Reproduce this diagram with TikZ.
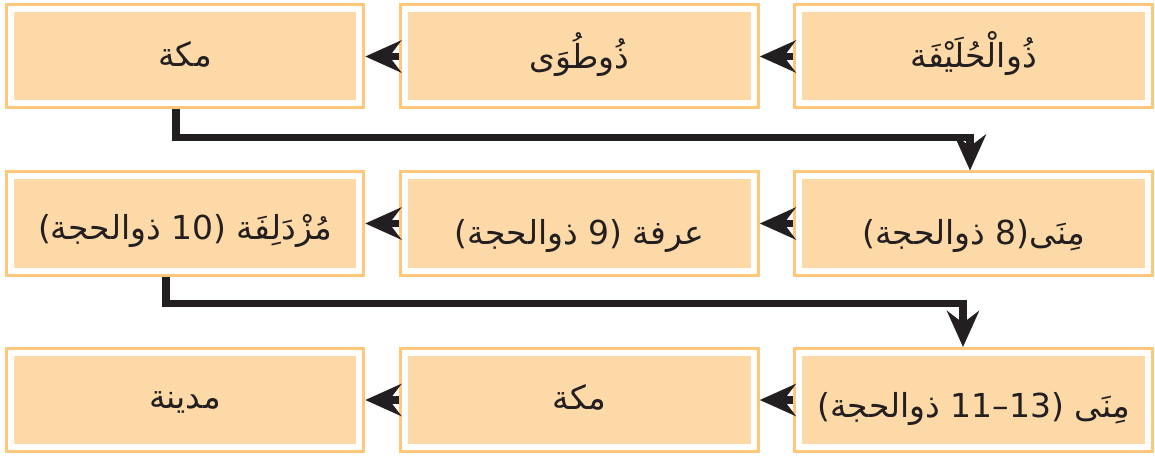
\documentclass[tikz,border=0pt]{standalone}
\usepackage{fontspec}
\usetikzlibrary{arrows.meta}
\TeXXeTstate=1
\newfontfamily\arabicfont[Script=Arabic]{DejaVu Sans}
\definecolor{boxframe}{RGB}{254,199,122}
\definecolor{boxfill}{RGB}{253,217,167}
\definecolor{ink}{RGB}{35,31,32}
\begin{document}
\begin{tikzpicture}[x=1pt,y=1pt,
  hbox/.style={preaction={draw=boxframe,line width=12pt},
    fill=boxfill, draw=white, line width=6pt,
    minimum width=348.5pt, minimum height=94pt, inner sep=0pt, outer sep=6pt,
    font=\arabicfont\fontsize{33}{38}\selectfont, text=ink, text depth=0pt},
  flow/.style={draw=ink, line width=7.5pt,
    -{Stealth[length=36pt,width=32pt,inset=12pt]}}]
\useasboundingbox (0,0) rectangle (1155,-462);
% row 1
\node[hbox, text height=22pt] (hulayfa) at (973.5,-56.5) {\beginR ذُوالْحُلَيْفَة\endR};
\node[hbox, text height=24pt] (tuwa)    at (579.5,-56.5) {\beginR ذُوطُوَى\endR};
\node[hbox, text height=21pt] (makka1)  at (185,-56.5)   {\beginR مكة\endR};
% row 2
\node[hbox, text height=42pt] (mina1)   at (973.5,-223.5) {\beginR مِنَى(8 ذوالحجة)\endR};
\node[hbox, text height=42pt] (arafa)   at (579.5,-223.5) {\beginR عرفة (9 ذوالحجة)\endR};
\node[hbox, text height=33pt] (muzd)    at (185,-223.5)   {\beginR مُزْدَلِفَة (10 ذوالحجة)\endR};
% row 3
\node[hbox, text height=34pt] (mina2)   at (973.5,-400) {\beginR مِنَى (13–11 ذوالحجة)\endR};
\node[hbox, text height=18pt] (makka2)  at (579.5,-400) {\beginR مكة\endR};
\node[hbox, text height=16pt] (madina)  at (185,-400)   {\beginR مدينة\endR};
% horizontal arrows
\draw[flow] (hulayfa.west) -- (tuwa.east);
\draw[flow] (tuwa.west) -- (makka1.east);
\draw[flow] (mina1.west) -- (arafa.east);
\draw[flow] (arafa.west) -- (muzd.east);
\draw[flow] (mina2.west) -- (makka2.east);
\draw[flow] (makka2.west) -- (madina.east);
% connectors between rows
\draw[flow] ([xshift=-9pt]makka1.south) -- ++(0,-28) -| ([xshift=-3.5pt]mina1.north);
\draw[flow] ([xshift=-19pt]muzd.south) -- ++(0,-27) -| ([xshift=-10.5pt]mina2.north);
\end{tikzpicture}
\end{document}
